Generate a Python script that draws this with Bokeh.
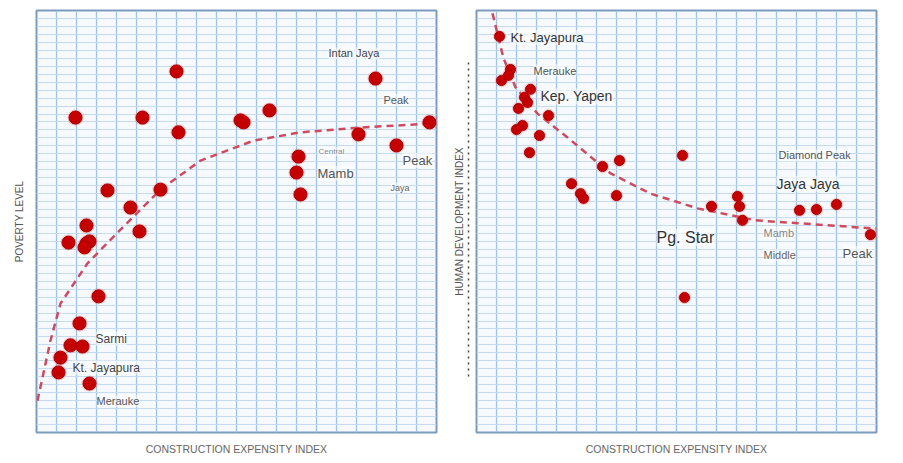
from bokeh.plotting import figure
from bokeh.layouts import row
from bokeh.models import FixedTicker, LinearAxis, Label, ColumnDataSource
from bokeh.embed import file_html
from bokeh.resources import INLINE

# ---------------- data: left panel (poverty level vs construction expensity) ----------------
left_x = [35, 84.75, 9.75, 26.5, 51, 51.75, 58.25, 35.5, 80.5, 98.25, 90, 65.5, 65, 66,
          17.75, 31, 23.5, 12.5, 25.75, 8, 12.5, 13.25, 12, 15.5, 10.75, 8.5, 11.5, 6, 5.5, 13.25]
left_y = [90.7, 88.9, 79.1, 79.1, 78.4, 77.9, 80.9, 75.4, 74.9, 77.9, 72.1, 69.3, 65.3, 59.8,
          60.8, 61.0, 56.5, 52.0, 50.5, 47.7, 47.5, 48.0, 46.5, 34.2, 27.4, 21.9, 21.6, 18.8, 15.1, 12.3]
left_curve_x = [0.25, 1.5, 3.5, 6, 12.75, 20.75, 31, 41, 54.25, 66, 81, 98.5, 100]
left_curve_y = [8.0, 13.8, 23.1, 32.4, 42.5, 50.7, 61.0, 68.3, 73.3, 75.4, 76.6, 77.6, 77.7]
left_labels = ["Intan Jaya", "Peak", "Central", "Mamb", "Peak", "Jaya", "Sarmi", "Kt. Jayapura", "Merauke"]
left_label_x = [73, 86.75, 70.5, 70.25, 91.5, 88.5, 14.75, 9, 15]
left_label_y = [95.2, 83.6, 70.6, 65.1, 68.3, 61.5, 23.6, 16.3, 7.9]

# ---------------- data: right panel (human development index vs construction expensity) ----------------
right_x = [5.75, 8.5, 6.25, 8.0, 13.5, 12.0, 12.75, 10.5, 18.0, 11.5, 10.0, 15.75, 13.25,
           31.5, 35.75, 23.75, 26.0, 26.75, 35.0, 51.5, 58.75, 65.25, 65.75, 66.5,
           80.75, 85.0, 90.0, 98.5, 52.0]
right_y = [99.5, 91.2, 88.4, 89.7, 86.2, 84.2, 82.9, 81.4, 79.6, 77.1, 76.1, 74.6, 70.3,
           66.8, 68.3, 62.5, 60.0, 58.8, 59.5, 69.6, 56.8, 59.3, 56.8, 53.3,
           55.8, 56.0, 57.3, 49.7, 33.9]
right_curve_x = [4.0, 5.25, 6.75, 9.75, 15.25, 22.75, 33.5, 43.5, 55.25, 69.75, 84.25, 100]
right_curve_y = [105.3, 100.2, 94.0, 86.7, 80.1, 74.1, 65.1, 60.0, 56.3, 53.3, 52.3, 51.2]
right_labels = ["Kt. Jayapura", "Merauke", "Kep. Yapen", "Diamond Peak", "Jaya Jaya",
                "Pg. Star", "Mamb", "Middle", "Peak"]
right_label_x = [8.5, 14.25, 16, 75.5, 75, 45, 71.75, 71.75, 91.5]
right_label_y = [99.2, 90.9, 84.4, 69.6, 62.5, 49.0, 50.2, 44.5, 45.0]

x_title = "CONSTRUCTION EXPENSITY INDEX"
left_y_title = "POVERTY LEVEL"
right_y_title = "HUMAN DEVELOPMENT INDEX"

# ---------------- styles ----------------
left_label_sizes = ["11px", "11px", "8px", "13px", "13px", "9px", "12px", "12px", "11px"]
left_label_colors = ["#444444", "#555555", "#888888", "#555555", "#555555", "#666666", "#444444", "#444444", "#555555"]
right_label_sizes = ["13px", "11px", "14px", "11px", "14px", "16px", "11px", "11px", "13px"]
right_label_colors = ["#333333", "#555555", "#333333", "#555555", "#333333", "#333333", "#888888", "#666666", "#555555"]

FONT = "Liberation Sans"
X_RANGE = (0, 100)
Y_RANGE = (0, 106)


def base_figure(width, border_left, border_right):
    p = figure(width=width, height=463, x_range=X_RANGE, y_range=Y_RANGE,
               output_backend="svg", toolbar_location=None,
               min_border_left=border_left, min_border_right=border_right,
               min_border_top=10, min_border_bottom=31)
    p.background_fill_color = "#f6fafe"
    p.border_fill_color = "white"
    p.outline_line_color = "#7d9cbc"
    p.outline_line_width = 2
    p.xgrid.ticker = FixedTicker(ticks=list(range(0, 101, 5)))
    p.ygrid.ticker = FixedTicker(ticks=list(range(0, 107, 2)))
    p.xgrid.grid_line_color = "#9fc3e6"
    p.xgrid.grid_line_width = 1.3
    p.ygrid.grid_line_color = "#c4dbf1"
    p.ygrid.grid_line_width = 1
    xa = p.xaxis[0]
    xa.ticker = FixedTicker(ticks=[])
    xa.major_tick_out = 0
    xa.minor_tick_out = 0
    xa.axis_line_color = None
    xa.axis_label = x_title
    xa.axis_label_text_font = FONT
    xa.axis_label_text_font_style = "normal"
    xa.axis_label_text_font_size = "10.5px"
    xa.axis_label_text_color = "#666666"
    xa.axis_label_standoff = 10
    ya = p.yaxis[0]
    ya.ticker = FixedTicker(ticks=[])
    ya.major_tick_out = 0
    ya.minor_tick_out = 0
    ya.axis_line_color = None
    return p


def add_marks(p, xs, ys, cx, cy, size):
    p.line(cx, cy, line_color="#cf4a5e", line_width=2.5, line_dash="7 5")
    src = ColumnDataSource(dict(x=xs, y=ys))
    p.scatter("x", "y", source=src, size=size + 3, fill_color="#e86a6a", fill_alpha=0.35, line_color=None)
    p.scatter("x", "y", source=src, size=size, fill_color="#c40000", line_color="#b00000", line_width=1)


def add_labels(p, texts, xs, ys, sizes, colors):
    for t, x, y, s, c in zip(texts, xs, ys, sizes, colors):
        p.add_layout(Label(x=x, y=y, text=t, text_font=FONT, text_font_size=s, text_color=c,
                           text_align="left", text_baseline="middle", level="overlay",
                           background_fill_color="white", background_fill_alpha=0.55))


# left panel
p1 = base_figure(446, 36, 10)
ya1 = p1.yaxis[0]
ya1.axis_label = left_y_title
ya1.axis_label_text_font = FONT
ya1.axis_label_text_font_style = "normal"
ya1.axis_label_text_font_size = "10px"
ya1.axis_label_text_color = "#555555"
ya1.axis_label_standoff = 12
add_marks(p1, left_x, left_y, left_curve_x, left_curve_y, 13)
add_labels(p1, left_labels, left_label_x, left_label_y, left_label_sizes, left_label_colors)

# right panel: inner blank axis acts as a spacer, outer axis draws the dotted line and title
p2 = base_figure(457, 30, 27)
spacer = p2.yaxis[0]
spacer.axis_label = "\u00a0"
spacer.axis_label_text_font_size = "2px"
spacer.axis_label_standoff = 3
dotted = LinearAxis(ticker=FixedTicker(ticks=[]), bounds=(14, 93))
dotted.major_tick_out = 0
dotted.minor_tick_out = 0
dotted.axis_line_color = "#444444"
dotted.axis_line_dash = "2 4"
dotted.axis_line_width = 1.5
dotted.axis_label = right_y_title
dotted.axis_label_text_font = FONT
dotted.axis_label_text_font_style = "normal"
dotted.axis_label_text_font_size = "10px"
dotted.axis_label_text_color = "#555555"
dotted.axis_label_standoff = 4
p2.add_layout(dotted, "left")
add_marks(p2, right_x, right_y, right_curve_x, right_curve_y, 10)
add_labels(p2, right_labels, right_label_x, right_label_y, right_label_sizes, right_label_colors)

layout = row(p1, p2)
open("out.html", "w").write(file_html(layout, INLINE))
